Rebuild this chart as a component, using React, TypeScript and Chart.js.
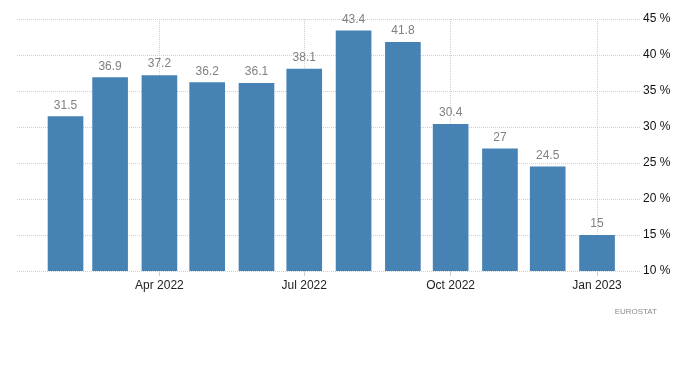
import React, { useEffect, useRef } from "react";
import { Chart, registerables } from "chart.js";

Chart.register(...registerables);

// Months shown (first day of month, as day offset from 2022-02-01)
const months = ["Feb 2022", "Mar 2022", "Apr 2022", "May 2022", "Jun 2022", "Jul 2022", "Aug 2022", "Sep 2022", "Oct 2022", "Nov 2022", "Dec 2022", "Jan 2023"];
const monthDays = [0, 28, 59, 89, 120, 150, 181, 212, 242, 273, 303, 334];
const values = [31.5, 36.9, 37.2, 36.2, 36.1, 38.1, 43.4, 41.8, 30.4, 27, 24.5, 15];

const xTickDays = [59, 150, 242, 334];
const xTickLabels = ["Apr 2022", "Jul 2022", "Oct 2022", "Jan 2023"];
const yTicks = [10, 15, 20, 25, 30, 35, 40, 45];
const sourceLabel = "EUROSTAT";

const FONT = "'Liberation Sans', Arial, sans-serif";

export default function App() {
  const ref = useRef<HTMLCanvasElement | null>(null);

  useEffect(() => {
    const canvas = ref.current;
    if (!canvas) return;

    const labelsPlugin = {
      id: "valueLabels",
      afterDatasetsDraw(chart: any) {
        const ctx = chart.ctx;
        const meta = chart.getDatasetMeta(0);
        ctx.save();
        ctx.font = `12px ${FONT}`;
        ctx.fillStyle = "#808080";
        ctx.textAlign = "center";
        ctx.textBaseline = "bottom";
        meta.data.forEach((el: any, i: number) => {
          ctx.fillText(String(values[i]), el.x, el.y - 5);
        });
        ctx.font = `8px ${FONT}`;
        ctx.fillStyle = "#8a8a8a";
        ctx.textAlign = "right";
        ctx.textBaseline = "middle";
        ctx.fillText(sourceLabel, 657, 312);
        ctx.restore();
      },
    };

    const chart = new Chart(canvas, {
      type: "bar",
      data: {
        labels: months,
        datasets: [
          {
            data: monthDays.map((d, i) => ({ x: d, y: values[i] })),
            backgroundColor: "#4682b4",
            borderWidth: 0,
            categoryPercentage: 1,
            barPercentage: 0.8,
          },
        ],
      },
      options: {
        animation: false,
        responsive: false,
        maintainAspectRatio: false,
        layout: { padding: { left: 17, top: 19, right: 0, bottom: 0 } },
        plugins: {
          legend: { display: false },
          tooltip: { enabled: false },
        },
        scales: {
          x: {
            type: "linear",
            offset: false,
            min: -30.5,
            max: 361,
            afterBuildTicks: (scale: any) => {
              scale.ticks = xTickDays.map((v) => ({ value: v }));
            },
            afterFit: (scale: any) => {
              scale.height = 96;
            },
            grid: {
              offset: false,
              color: "#cfcfcf",
              tickLength: 5,
              drawTicks: true,
            },
            border: { display: false, dash: [1, 1] },
            ticks: {
              autoSkip: false,
              maxRotation: 0,
              padding: 2,
              color: "#222",
              font: { family: FONT, size: 12 },
              callback: (v: any) => {
                const idx = xTickDays.indexOf(Number(v));
                return idx >= 0 ? xTickLabels[idx] : "";
              },
            },
          },
          y: {
            position: "right",
            min: 10,
            max: 45,
            afterBuildTicks: (scale: any) => {
              scale.ticks = yTicks.map((v) => ({ value: v }));
            },
            afterFit: (scale: any) => {
              scale.width = 60;
            },
            grid: { color: "#cfcfcf", drawTicks: false },
            border: { display: false, dash: [1, 1] },
            ticks: {
              padding: 3,
              color: "#111",
              font: { family: FONT, size: 12 },
              callback: (v: any) => `${v} %`,
            },
          },
        },
      },
      plugins: [labelsPlugin],
    } as any);

    return () => chart.destroy();
  }, []);

  return (
    <div style={{ position: "absolute", left: 0, top: 0, width: 700, height: 367, background: "#fff" }}>
      <canvas ref={ref} width={700} height={367} style={{ display: "block" }} />
    </div>
  );
}
